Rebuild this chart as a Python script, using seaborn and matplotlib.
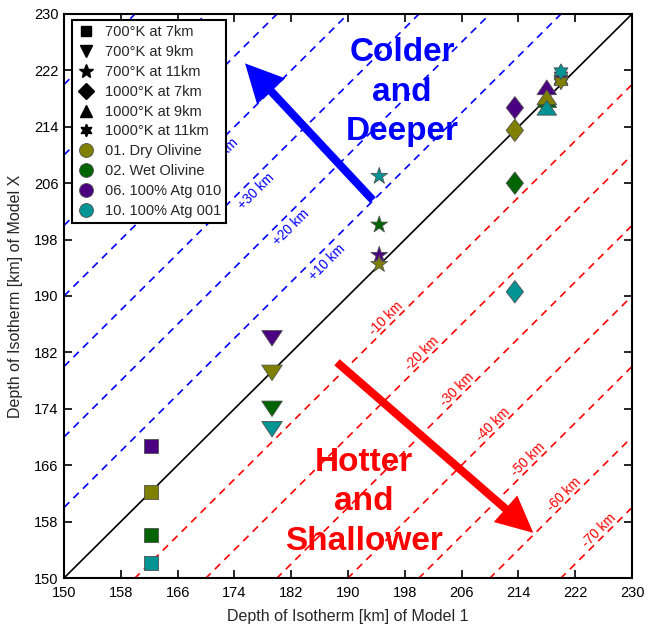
import numpy as np
import pandas as pd
import matplotlib
matplotlib.use('Agg')
import matplotlib.pyplot as plt
from matplotlib.path import Path
from matplotlib.lines import Line2D
import seaborn as sns

# ---------------- data ----------------
materials = ['01. Dry Olivine', '02. Wet Olivine', '06. 100% Atg 010', '10. 100% Atg 001']
material_colors = ['#808000', '#006400', '#4B0082', '#009494']
cases = ['700°K at 7km', '700°K at 9km', '700°K at 11km',
         '1000°K at 7km', '1000°K at 9km', '1000°K at 11km']
model1_depth = [162.2, 179.3, 194.4, 213.5, 218.0, 220.0]
modelx_dry = [162.2, 179.1, 194.5, 213.5, 218.2, 220.4]
modelx_wet = [156.1, 174.0, 200.1, 206.0, 217.8, 220.6]
modelx_atg010 = [168.7, 184.0, 195.8, 216.7, 219.6, 221.2]
modelx_atg001 = [152.1, 171.1, 207.0, 190.6, 216.7, 221.8]
offsets_colder = [10, 20, 30, 40, 50, 60, 70]
offsets_hotter = [-10, -20, -30, -40, -50, -60, -70]
tick_values = list(range(150, 231, 8))

# ---------------- style ----------------
sns.set_style('ticks')
plt.rcParams['font.family'] = ['Liberation Sans', 'DejaVu Sans']

fig = plt.figure(figsize=(6.48, 6.34), dpi=100)
ax = fig.add_axes([64 / 648, 56 / 634, 568 / 648, 564 / 634])

# build table (draw order: wet, atg010, dry, atg001)
series = {materials[0]: modelx_dry, materials[1]: modelx_wet,
          materials[2]: modelx_atg010, materials[3]: modelx_atg001}
order = [materials[1], materials[2], materials[0], materials[3]]
rows = []
for ci, case in enumerate(cases):
    for m in order:
        rows.append({'model1': model1_depth[ci], 'modelx': series[m][ci],
                     'material': m, 'case': case})
df = pd.DataFrame(rows)

tri_down = Path([(-1, 0.75), (1, 0.75), (0, -0.75), (-1, 0.75)],
                [Path.MOVETO, Path.LINETO, Path.LINETO, Path.CLOSEPOLY])
tri_up = Path([(-1, -0.75), (1, -0.75), (0, 0.75), (-1, -0.75)],
              [Path.MOVETO, Path.LINETO, Path.LINETO, Path.CLOSEPOLY])
diamond = Path([(0, 1), (0.77, 0), (0, -1), (-0.77, 0), (0, 1)],
               [Path.MOVETO, Path.LINETO, Path.LINETO, Path.LINETO, Path.CLOSEPOLY])
hexagram = Path.unit_regular_star(6, 0.577)

marker_map = dict(zip(cases, ['s', tri_down, '*', diamond, tri_up, hexagram]))
size_map = dict(zip(cases, [100, 220, 160, 260, 200, 130]))
palette = dict(zip(materials, material_colors))

# reference lines
lims = np.array([150, 230])
ax.plot(lims, lims, color='black', lw=1.2, zorder=2)
for d in offsets_colder:
    ax.plot(lims, lims + d, color='#0000FF', lw=1.2, ls=(0, (4.5, 3.5)), zorder=1)
for d in offsets_hotter:
    ax.plot(lims, lims + d, color='#FF0000', lw=1.2, ls=(0, (4.5, 3.5)), zorder=1)

# line labels along x + y = 382
for d in offsets_colder:
    x = (382 - d) / 2 + 1
    ax.text(x, x + d - 2.2, f'+{d} km', color='#0000FF', fontsize=9.8,
            rotation=44.8, ha='center', va='center', rotation_mode='anchor', zorder=3)
for d in offsets_hotter:
    x = (382 - d) / 2 - 0.6
    ax.text(x, x + d + 1.4, f'{d} km', color='#FF0000', fontsize=9.8,
            rotation=44.8, ha='center', va='center', rotation_mode='anchor', zorder=3)

sns.scatterplot(data=df, x='model1', y='modelx', hue='material', style='case',
                size='case', sizes=size_map, markers=marker_map, palette=palette,
                hue_order=materials, style_order=cases, size_order=cases,
                edgecolor='#505050', linewidth=0.6, legend=False, ax=ax, zorder=5)

# arrows
ax.arrow(193.5, 203.6, 175.5 - 193.5, 223.0 - 203.6, width=1.15, head_width=5.4,
         head_length=5.4, length_includes_head=True, color='#0000FF', lw=0, zorder=4)
ax.arrow(188.45, 180.6, 216.1 - 188.45, 156.4 - 180.6, width=1.15, head_width=5.0,
         head_length=5.2, length_includes_head=True, color='#FF0000', lw=0, zorder=4)

ax.text(197.6, 218.9, 'Colder\nand\nDeeper', color='#0000FF', fontsize=24,
        fontweight='bold', ha='center', va='center', linespacing=1.36, zorder=6)
ax.text(192.2, 160.8, 'Hotter\nand\nShallower', color='#FF0000', fontsize=24,
        fontweight='bold', ha='center', va='center', linespacing=1.36, zorder=6)

# axes
ax.set_xlim(150, 230)
ax.set_ylim(150, 230)
ax.set_xticks(tick_values)
ax.set_yticks(tick_values)
ax.tick_params(direction='in', length=6, width=1.2, top=True, right=True,
               labelsize=10.5, colors='black')
ax.tick_params(axis='x', pad=6)
ax.tick_params(axis='y', pad=4)
for s in ax.spines.values():
    s.set_visible(True)
    s.set_linewidth(1.5)
    s.set_color('black')
ax.set_xlabel('Depth of Isotherm [km] of Model 1', fontsize=11.5, labelpad=6)
ax.set_ylabel('Depth of Isotherm [km] of Model X', fontsize=11.5, labelpad=8)

# legend
legend_markers = ['s', 'v', '*', 'D', '^', (6, 1, 0)]
legend_ms = [7, 9, 10, 8, 9, 9]
handles = []
for case, mk, ms in zip(cases, legend_markers, legend_ms):
    handles.append(Line2D([], [], marker=mk, color='black', ls='none', ms=ms, label=case))
for m, c in zip(materials, material_colors):
    handles.append(Line2D([], [], marker='o', color=c, mec='#505050', mew=0.6,
                          ls='none', ms=10, label=m))
leg = ax.legend(handles=handles, loc='upper left', bbox_to_anchor=(0.014, 0.989),
                borderaxespad=0, fontsize=10.5, frameon=True, fancybox=False,
                framealpha=1, edgecolor='black', handlelength=1.2,
                handletextpad=0.7, labelspacing=0.4, borderpad=0.35)
leg.get_frame().set_linewidth(1.5)
leg.set_zorder(10)

fig.savefig('out.png', dpi=100)
